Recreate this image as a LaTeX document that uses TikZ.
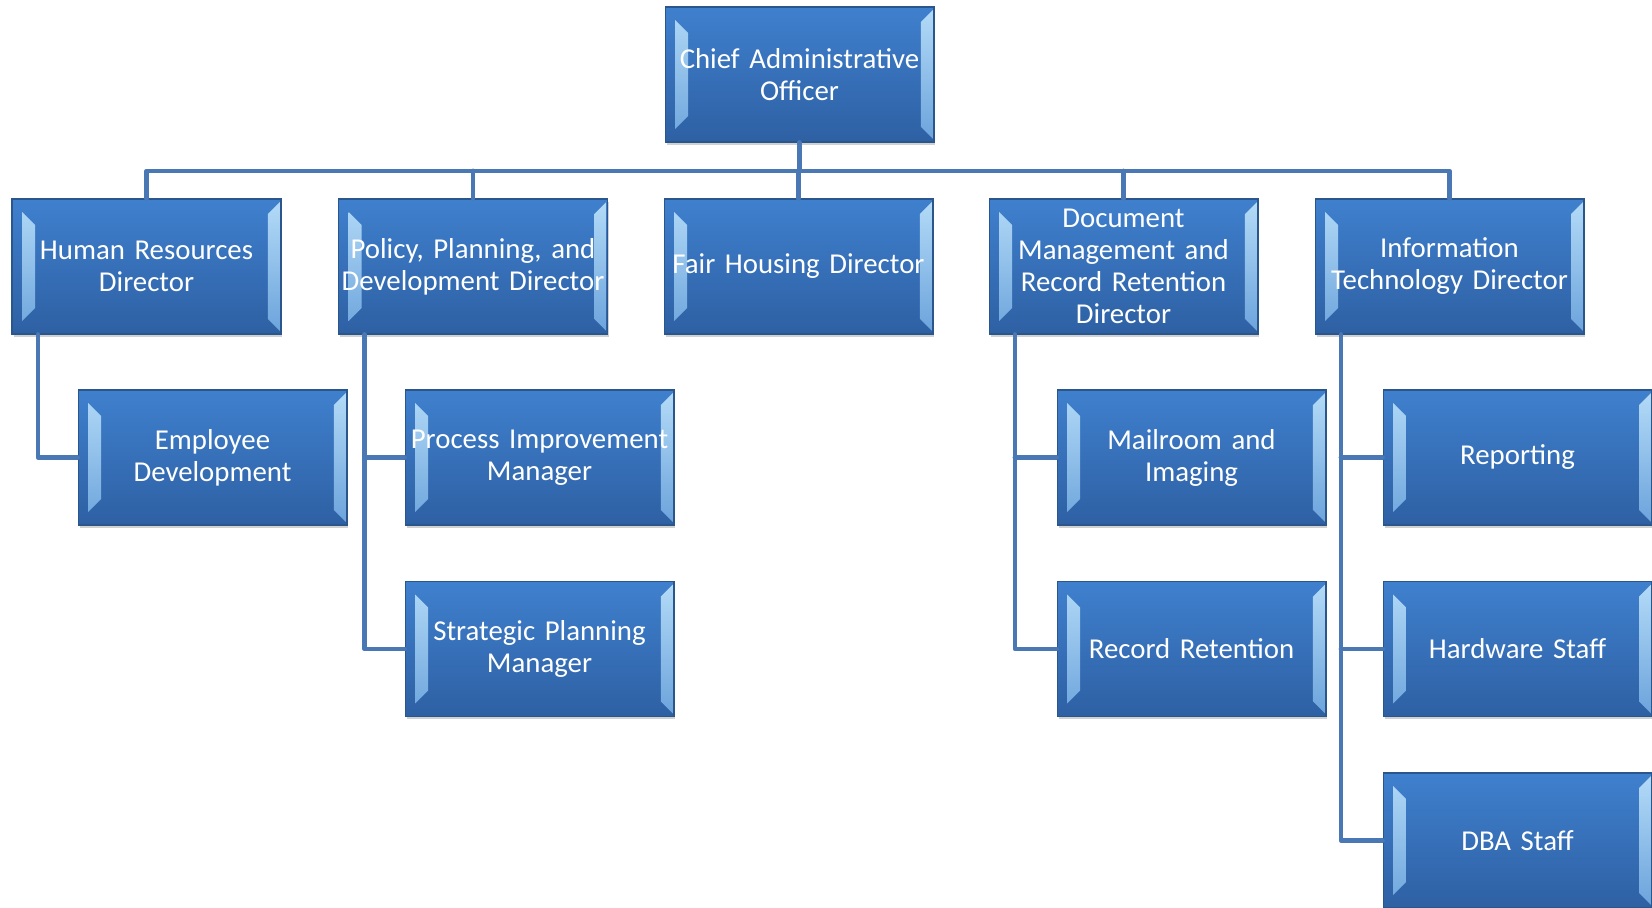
\documentclass[tikz,border=0pt]{standalone}
\usepackage{fontspec}
\setmainfont{Carlito}
\usetikzlibrary{shadows}
\definecolor{boxtop}{HTML}{3F80CE}
\definecolor{boxbot}{HTML}{2E60A3}
\definecolor{boxline}{HTML}{2A568C}
\definecolor{bevtop}{HTML}{B3DAF7}
\definecolor{bevbot}{HTML}{6CA4DC}
\definecolor{linkblue}{HTML}{4A78B4}
\begin{document}
\begin{tikzpicture}[x=0.02cm,y=-0.02cm,line cap=round,
	unit/.style={draw=boxline,line width=0.6pt,top color=boxtop,bottom color=boxbot,
		minimum width=5.38cm,minimum height=2.7cm,text width=5.38cm,inner xsep=0pt,
		align=center,text=white,font=\fontsize{16.4}{18.2}\selectfont,
		drop shadow={shadow xshift=0.03cm,shadow yshift=-0.06cm,opacity=0.3,fill=black!60},
		path picture={
			\shade[top color=bevtop,bottom color=bevbot]
				([xshift=0.2cm,yshift=-0.26cm]path picture bounding box.north west)
				-- ([xshift=0.46cm,yshift=-0.52cm]path picture bounding box.north west)
				-- ([xshift=0.46cm,yshift=0.52cm]path picture bounding box.south west)
				-- ([xshift=0.2cm,yshift=0.26cm]path picture bounding box.south west) -- cycle;
			\shade[top color=bevtop,bottom color=bevbot]
				([xshift=-0.02cm,yshift=-0.06cm]path picture bounding box.north east)
				-- ([xshift=-0.26cm,yshift=-0.3cm]path picture bounding box.north east)
				-- ([xshift=-0.26cm,yshift=0.3cm]path picture bounding box.south east)
				-- ([xshift=-0.02cm,yshift=0.06cm]path picture bounding box.south east) -- cycle;
		}},
	link/.style={draw=linkblue,line width=2.7pt,line join=round}]
	\useasboundingbox (0,0) rectangle (1652,908);
	\coordinate (bus) at (0,171);
	\node[unit] (cao) at (799.5,74.5) {Chief Administrative\\Officer};
	\node[unit] (hr) at (146.5,266.5) {Human Resources\\Director};
	\node[unit] (ppd) at (473,266.5) {Policy, Planning, and\\Development Director};
	\node[unit] (fair) at (798.5,266.5) {Fair Housing Director};
	\node[unit] (docs) at (1123.5,266.5) {Document\\Management and\\Record Retention\\Director};
	\node[unit] (it) at (1449.5,266.5) {Information\\Technology Director};
	\node[unit] (emp) at (212.5,457.5) {Employee\\Development};
	\node[unit] (proc) at (539.5,457.5) {Process Improvement\\Manager};
	\node[unit] (strat) at (539.5,649) {Strategic Planning\\Manager};
	\node[unit] (mail) at (1191.5,457.5) {Mailroom and\\Imaging};
	\node[unit] (rec) at (1191.5,649) {Record Retention};
	\node[unit] (rep) at (1517.5,457.5) {Reporting};
	\node[unit] (hw) at (1517.5,649) {Hardware Staff};
	\node[unit] (dba) at (1517.5,840.5) {DBA Staff};
	% top level bus
	\draw[link] (cao.south) -- (cao.south |- bus);
	\draw[link] (hr.north) -- (hr.north |- bus) -- (it.north |- bus) -- (it.north);
	\draw[link] (ppd.north) -- (ppd.north |- bus);
	\draw[link] (fair.north) -- (fair.north |- bus);
	\draw[link] (docs.north) -- (docs.north |- bus);
	% side branches
	\draw[link] ([xshift=0.53cm]hr.south west) |- (emp.west);
	\draw[link] ([xshift=0.53cm]ppd.south west) |- (strat.west);
	\draw[link] ([xshift=0.53cm]ppd.south west |- proc.west) -- (proc.west);
	\draw[link] ([xshift=0.53cm]docs.south west) |- (rec.west);
	\draw[link] ([xshift=0.53cm]docs.south west |- mail.west) -- (mail.west);
	\draw[link] ([xshift=0.53cm]it.south west) |- (dba.west);
	\draw[link] ([xshift=0.53cm]it.south west |- rep.west) -- (rep.west);
	\draw[link] ([xshift=0.53cm]it.south west |- hw.west) -- (hw.west);
\end{tikzpicture}
\end{document}
